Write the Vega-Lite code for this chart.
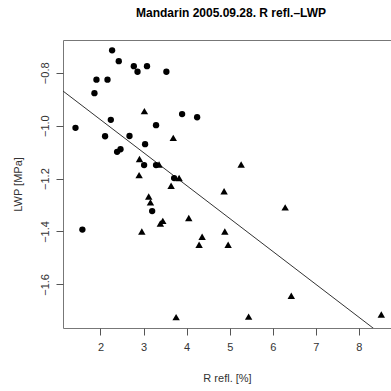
{
  "$schema": "https://vega.github.io/schema/vega-lite/v6.json",
  "autosize": {"type": "none"},
  "padding": {"left": 63, "top": 40, "right": 0, "bottom": 63},
  "width": 328,
  "height": 288,
  "background": "white",
  "config": {
    "view": {"stroke": "#777", "strokeWidth": 1},
    "font": "Liberation Sans",
    "axis": {
      "domain": false,
      "grid": false,
      "tickColor": "#555",
      "tickSize": 7,
      "labelColor": "#333",
      "labelFont": "Liberation Sans",
      "labelFontSize": 11,
      "titleFont": "Liberation Sans",
      "titleFontSize": 11,
      "titleFontWeight": "normal",
      "titleColor": "#333"
    }
  },
  "title": {
    "text": "Mandarin 2005.09.28. R refl.–LWP",
    "font": "Liberation Sans",
    "fontSize": 12,
    "fontWeight": "bold",
    "color": "#000",
    "anchor": "middle",
    "dx": 4,
    "offset": 20
  },
  "datasets": {
    "pts": [
      {"r": 2.27, "lwp": -0.715, "g": "circle"},
      {"r": 2.425, "lwp": -0.756, "g": "circle"},
      {"r": 2.774, "lwp": -0.775, "g": "circle"},
      {"r": 3.08, "lwp": -0.775, "g": "circle"},
      {"r": 2.86, "lwp": -0.796, "g": "circle"},
      {"r": 3.53, "lwp": -0.796, "g": "circle"},
      {"r": 1.907, "lwp": -0.826, "g": "circle"},
      {"r": 2.163, "lwp": -0.826, "g": "circle"},
      {"r": 1.86, "lwp": -0.877, "g": "circle"},
      {"r": 3.895, "lwp": -0.956, "g": "circle"},
      {"r": 4.244, "lwp": -0.968, "g": "circle"},
      {"r": 2.24, "lwp": -0.978, "g": "circle"},
      {"r": 1.42, "lwp": -1.008, "g": "circle"},
      {"r": 3.29, "lwp": -0.998, "g": "circle"},
      {"r": 2.107, "lwp": -1.04, "g": "circle"},
      {"r": 2.674, "lwp": -1.039, "g": "circle"},
      {"r": 3.036, "lwp": -1.07, "g": "circle"},
      {"r": 2.465, "lwp": -1.089, "g": "circle"},
      {"r": 2.386, "lwp": -1.099, "g": "circle"},
      {"r": 3.013, "lwp": -1.149, "g": "circle"},
      {"r": 3.29, "lwp": -1.149, "g": "circle"},
      {"r": 3.71, "lwp": -1.198, "g": "circle"},
      {"r": 3.2, "lwp": -1.323, "g": "circle"},
      {"r": 1.58, "lwp": -1.393, "g": "circle"},
      {"r": 3.02, "lwp": -0.945, "g": "triangle"},
      {"r": 3.69, "lwp": -1.046, "g": "triangle"},
      {"r": 2.906, "lwp": -1.126, "g": "triangle"},
      {"r": 3.36, "lwp": -1.147, "g": "triangle"},
      {"r": 2.897, "lwp": -1.187, "g": "triangle"},
      {"r": 3.826, "lwp": -1.198, "g": "triangle"},
      {"r": 3.64, "lwp": -1.227, "g": "triangle"},
      {"r": 4.87, "lwp": -1.248, "g": "triangle"},
      {"r": 5.266, "lwp": -1.147, "g": "triangle"},
      {"r": 3.12, "lwp": -1.268, "g": "triangle"},
      {"r": 3.16, "lwp": -1.29, "g": "triangle"},
      {"r": 3.447, "lwp": -1.36, "g": "triangle"},
      {"r": 3.39, "lwp": -1.37, "g": "triangle"},
      {"r": 4.05, "lwp": -1.349, "g": "triangle"},
      {"r": 2.96, "lwp": -1.4, "g": "triangle"},
      {"r": 4.887, "lwp": -1.4, "g": "triangle"},
      {"r": 4.36, "lwp": -1.42, "g": "triangle"},
      {"r": 4.29, "lwp": -1.45, "g": "triangle"},
      {"r": 4.964, "lwp": -1.45, "g": "triangle"},
      {"r": 6.288, "lwp": -1.309, "g": "triangle"},
      {"r": 6.43, "lwp": -1.643, "g": "triangle"},
      {"r": 5.44, "lwp": -1.722, "g": "triangle"},
      {"r": 3.756, "lwp": -1.724, "g": "triangle"},
      {"r": 8.52, "lwp": -1.714, "g": "triangle"}
    ],
    "fit": [
      {"r": 1.13, "lwp": -0.869},
      {"r": 8.745, "lwp": -1.817}
    ]
  },
  "encoding": {
    "x": {
      "field": "r", "type": "quantitative",
      "scale": {"domain": [1.13, 8.745], "nice": false, "zero": false},
      "axis": {"values": [2, 3, 4, 5, 6, 7, 8], "title": "R refl. [%]", "labelPadding": 6, "titlePadding": 20}
    },
    "y": {
      "field": "lwp", "type": "quantitative",
      "scale": {"domain": [-1.765, -0.676], "nice": false, "zero": false},
      "axis": {"values": [-1.6, -1.4, -1.2, -1.0, -0.8], "format": ".1f", "title": "LWP [MPa]", "labelAngle": -90, "labelAlign": "center", "labelBaseline": "bottom", "labelPadding": 6, "titlePadding": 16}
    }
  },
  "layer": [
    {
      "data": {"name": "fit"},
      "mark": {"type": "line", "color": "#333", "strokeWidth": 1, "clip": true}
    },
    {
      "data": {"name": "pts"},
      "transform": [{"filter": "datum.g == 'circle'"}],
      "mark": {"type": "point", "shape": "circle", "filled": true, "color": "#000", "opacity": 1, "size": 40, "clip": true}
    },
    {
      "data": {"name": "pts"},
      "transform": [{"filter": "datum.g == 'triangle'"}],
      "mark": {"type": "point", "shape": "triangle-up", "filled": true, "color": "#000", "opacity": 1, "size": 55, "clip": true}
    }
  ]
}
